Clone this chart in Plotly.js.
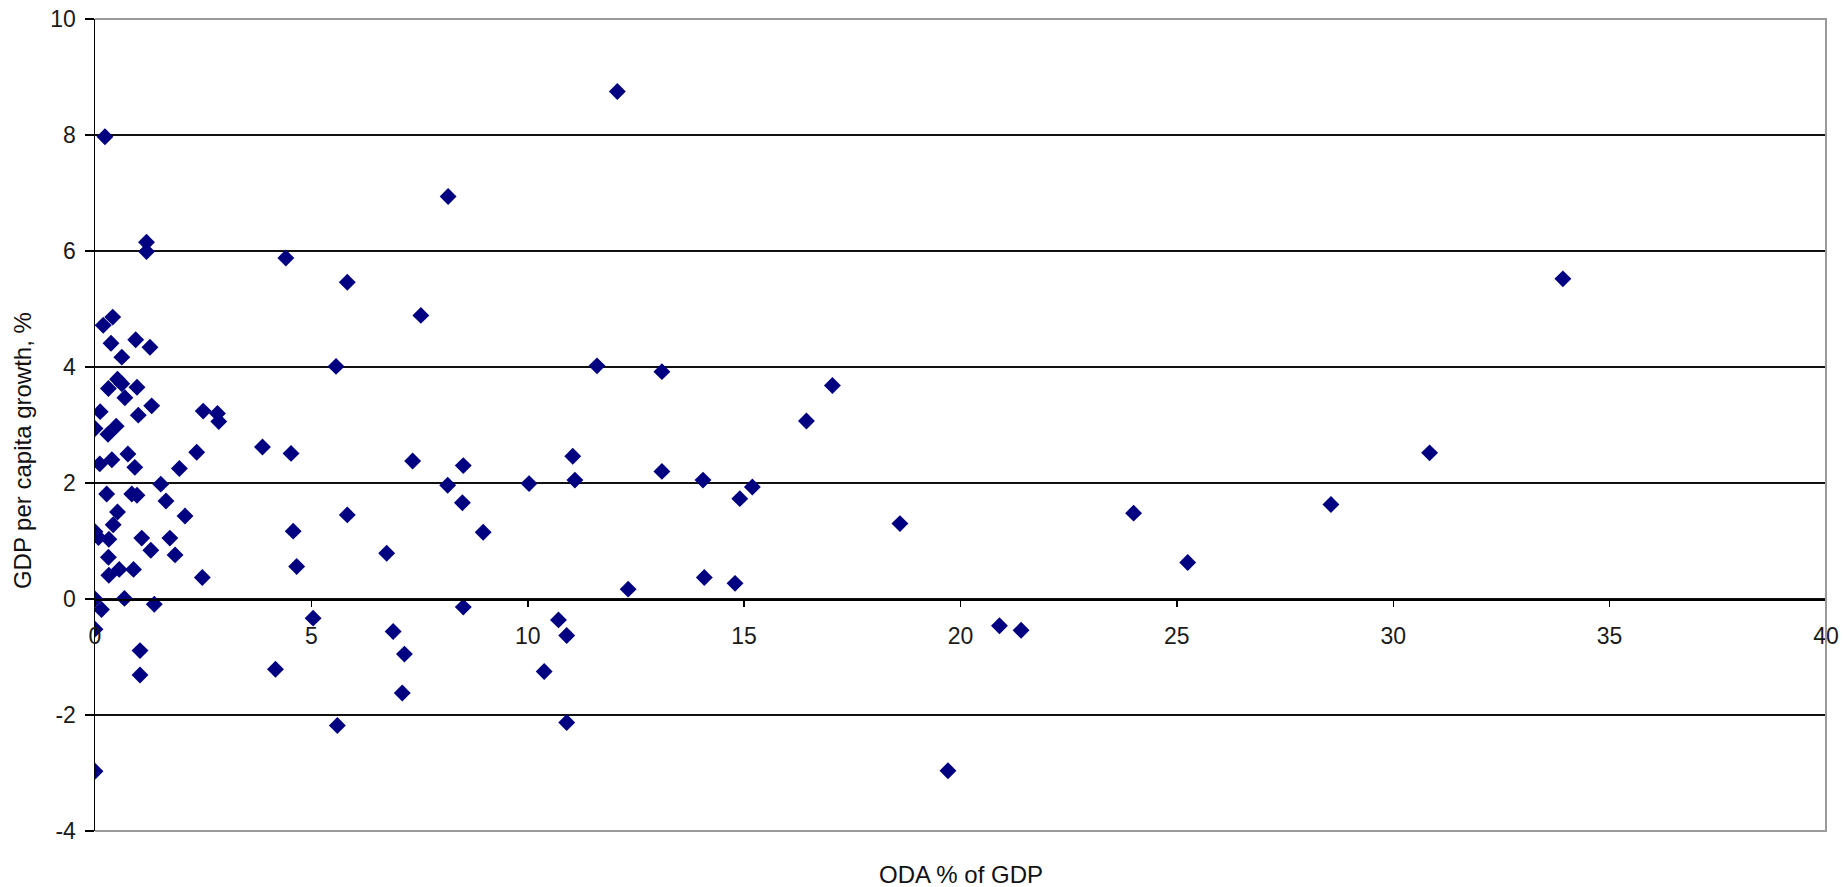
<!DOCTYPE html>
<html>
<head>
<meta charset="utf-8">
<script src="https://cdn.plot.ly/plotly-3.0.1.min.js"></script>
<style>html,body{margin:0;padding:0;background:#fff;}#chart{width:1844px;height:887px;}</style>
</head>
<body>
<div id="chart"></div>
<script>
// ODA as % of GDP (x) and GDP per capita growth, % (y)
const odaPct = [
  12.07, 8.16, 4.41, 5.83, 7.53, 5.57, 11.6, 13.1, 17.04, 16.44,
  33.92, 30.84, 28.56, 24.0, 25.25, 18.6, 20.9, 21.4, 19.71, 15.19,
  14.9, 14.05, 13.1, 14.08, 14.79, 12.32, 11.04, 11.09, 10.03, 10.71,
  10.9, 10.38, 10.9, 8.51, 8.15, 8.49, 8.97, 8.51, 7.34, 6.74,
  6.89, 7.15, 7.1, 5.6, 5.83, 5.04, 4.66, 4.58, 4.53, 3.87,
  4.17, 2.5, 2.83, 2.86, 2.35, 1.95, 1.52, 1.64, 2.08, 1.73,
  1.85, 2.48, 1.29, 1.08, 0.23, 1.19, 1.19, 0.19, 0.41, 0.37,
  0.94, 1.27, 0.62, 0.31, 0.52, 0.62, 0.69, 0.97, 0.12, 1.0,
  1.31, 0.0, 0.3, 0.49, 0.11, 0.39, 0.76, 0.92, 0.27, 0.85,
  0.97, 0.52, 0.42, 0.0, 0.08, 0.32, 0.31, 0.32, 0.56, 0.89,
  0.0, 0.15, 0.68, 1.37, 0.0, 1.04, 1.04, 0.0
];
const gdpGrowth = [
  8.75, 6.94, 5.88, 5.46, 4.89, 4.01, 4.02, 3.92, 3.68, 3.07,
  5.52, 2.52, 1.63, 1.48, 0.63, 1.30, -0.46, -0.54, -2.96, 1.93,
  1.73, 2.05, 2.2, 0.37, 0.27, 0.17, 2.46, 2.05, 1.99, -0.36,
  -0.63, -1.25, -2.13, 2.30, 1.96, 1.66, 1.15, -0.14, 2.38, 0.79,
  -0.56, -0.95, -1.62, -2.18, 1.45, -0.33, 0.56, 1.17, 2.51, 2.62,
  -1.21, 3.24, 3.2, 3.06, 2.53, 2.25, 1.98, 1.69, 1.43, 1.05,
  0.76, 0.37, 0.84, 1.05, 7.97, 6.15, 5.99, 4.72, 4.86, 4.41,
  4.47, 4.34, 4.17, 3.63, 3.79, 3.71, 3.47, 3.65, 3.23, 3.17,
  3.33, 2.94, 2.84, 2.98, 2.33, 2.40, 2.50, 2.27, 1.81, 1.81,
  1.79, 1.50, 1.28, 1.16, 1.06, 1.03, 0.72, 0.41, 0.51, 0.51,
  0.0, -0.18, 0.01, -0.09, -0.52, -0.89, -1.31, -2.97
];
const yTickVals = [-4, -2, 0, 2, 4, 6, 8, 10];
const yTickText = ['-4', '-2', '0', '2', '4', '6', '8', '10'];
const xTickVals = [0, 5, 10, 15, 20, 25, 30, 35, 40];
const xTickText = ['0', '5', '10', '15', '20', '25', '30', '35', '40'];
const xTitle = 'ODA % of GDP';
const yTitle = 'GDP per capita growth, %';

const FONT = 'Liberation Sans, Arial, sans-serif';
const yMin = -4, yMax = 10;

const trace = {
  type: 'scatter',
  mode: 'markers',
  x: odaPct,
  y: gdpGrowth,
  marker: {symbol: 'diamond', size: 13, color: '#000080', line: {width: 0}},
  hoverinfo: 'x+y',
  showlegend: false
};

const layout = {
  width: 1844,
  height: 887,
  margin: {l: 95, r: 18, t: 19, b: 56},
  paper_bgcolor: '#ffffff',
  plot_bgcolor: '#ffffff',
  font: {family: FONT, color: '#1a1a1a'},
  showlegend: false,
  xaxis: {
    range: [0, 40],
    anchor: 'free',
    position: (0 - yMin) / (yMax - yMin),
    side: 'bottom',
    showgrid: false,
    zeroline: false,
    showline: true,
    linecolor: '#000000',
    linewidth: 1.5,
    ticks: 'outside',
    ticklen: 6,
    tickwidth: 1.5,
    tickcolor: '#000000',
    tickmode: 'array',
    tickvals: xTickVals,
    ticktext: xTickText,
    tickfont: {family: FONT, size: 23, color: '#1a1a1a'},
    ticklabelstandoff: 10,
    automargin: false
  },
  yaxis: {
    range: [yMin, yMax],
    showgrid: true,
    gridcolor: '#111111',
    gridwidth: 1.5,
    zeroline: false,
    showline: true,
    linecolor: '#000000',
    linewidth: 1.5,
    ticks: 'outside',
    ticklen: 9,
    tickwidth: 1.5,
    tickcolor: '#000000',
    tickmode: 'array',
    tickvals: yTickVals,
    ticktext: yTickText,
    tickfont: {family: FONT, size: 23, color: '#1a1a1a'},
    ticklabelstandoff: 4,
    automargin: false
  },
  annotations: [
    {
      text: xTitle,
      xref: 'paper', yref: 'paper',
      x: 0.5, y: -0.0534,
      xanchor: 'center', yanchor: 'middle',
      showarrow: false,
      font: {family: FONT, size: 24, color: '#111'}
    },
    {
      text: yTitle,
      xref: 'paper', yref: 'paper',
      x: -0.0422, y: 0.469,
      xanchor: 'center', yanchor: 'middle',
      textangle: -90,
      showarrow: false,
      font: {family: FONT, size: 24, color: '#111'}
    }
  ],
  shapes: [{
    type: 'path',
    xref: 'paper', yref: 'paper',
    path: 'M 0,1 L 1,1 L 1,0 L 0,0',
    line: {color: '#9a9a9a', width: 2},
    layer: 'above'
  }]
};

Plotly.newPlot('chart', [trace], layout, {displayModeBar: false, staticPlot: true});
</script>
</body>
</html>
